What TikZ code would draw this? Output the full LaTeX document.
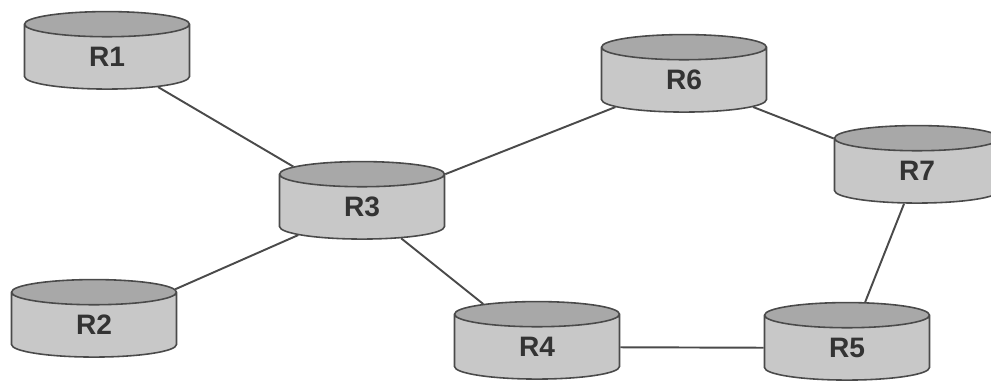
\documentclass[tikz,border=0pt]{standalone}
\usepackage{fontspec}
\setmainfont{Liberation Sans}
\usepackage{tikz}
\usetikzlibrary{shapes.geometric}
\usepackage{xcolor}
\definecolor{bodygray}{HTML}{C8C8C8}
\definecolor{topgray}{HTML}{A8A8A8}
\definecolor{edgegray}{HTML}{4A4A4A}
\tikzset{%
	router/.style={
		cylinder,
		shape border rotate=90,
		aspect=0.7,
		draw=edgegray,
		line width=0.9pt,
		cylinder uses custom fill,
		cylinder body fill=bodygray,
		cylinder end fill=topgray,
		minimum width=3.3cm,
		minimum height=1.55cm,
		inner sep=0pt,
		font=\fontsize{16}{18}\selectfont\bfseries,
		text=black!80
	},
	link/.style={
		draw=edgegray,
		line width=1.1pt
	},
}
\begin{document}
\begin{tikzpicture}[x=0.02cm, y=-0.02cm]
	\useasboundingbox (0,0) rectangle (991,380);
	\node[router] (r1) at (107,57) {R1};
	\node[router] (r2) at (94,325) {R2};
	\node[router] (r3) at (362,207) {R3};
	\node[router] (r4) at (537,347) {R4};
	\node[router] (r5) at (847,348) {R5};
	\node[router] (r6) at (684,80) {R6};
	\node[router] (r7) at (917,171) {R7};
	\draw[link] (r1) -- (r3);
	\draw[link] (r2) -- (r3);
	\draw[link] (r3) -- (r6);
	\draw[link] (r3) -- (r4);
	\draw[link] (r6) -- (r7);
	\draw[link] (r7) -- (r5);
	\draw[link] (r4) -- (r5);
\end{tikzpicture}
\end{document}
